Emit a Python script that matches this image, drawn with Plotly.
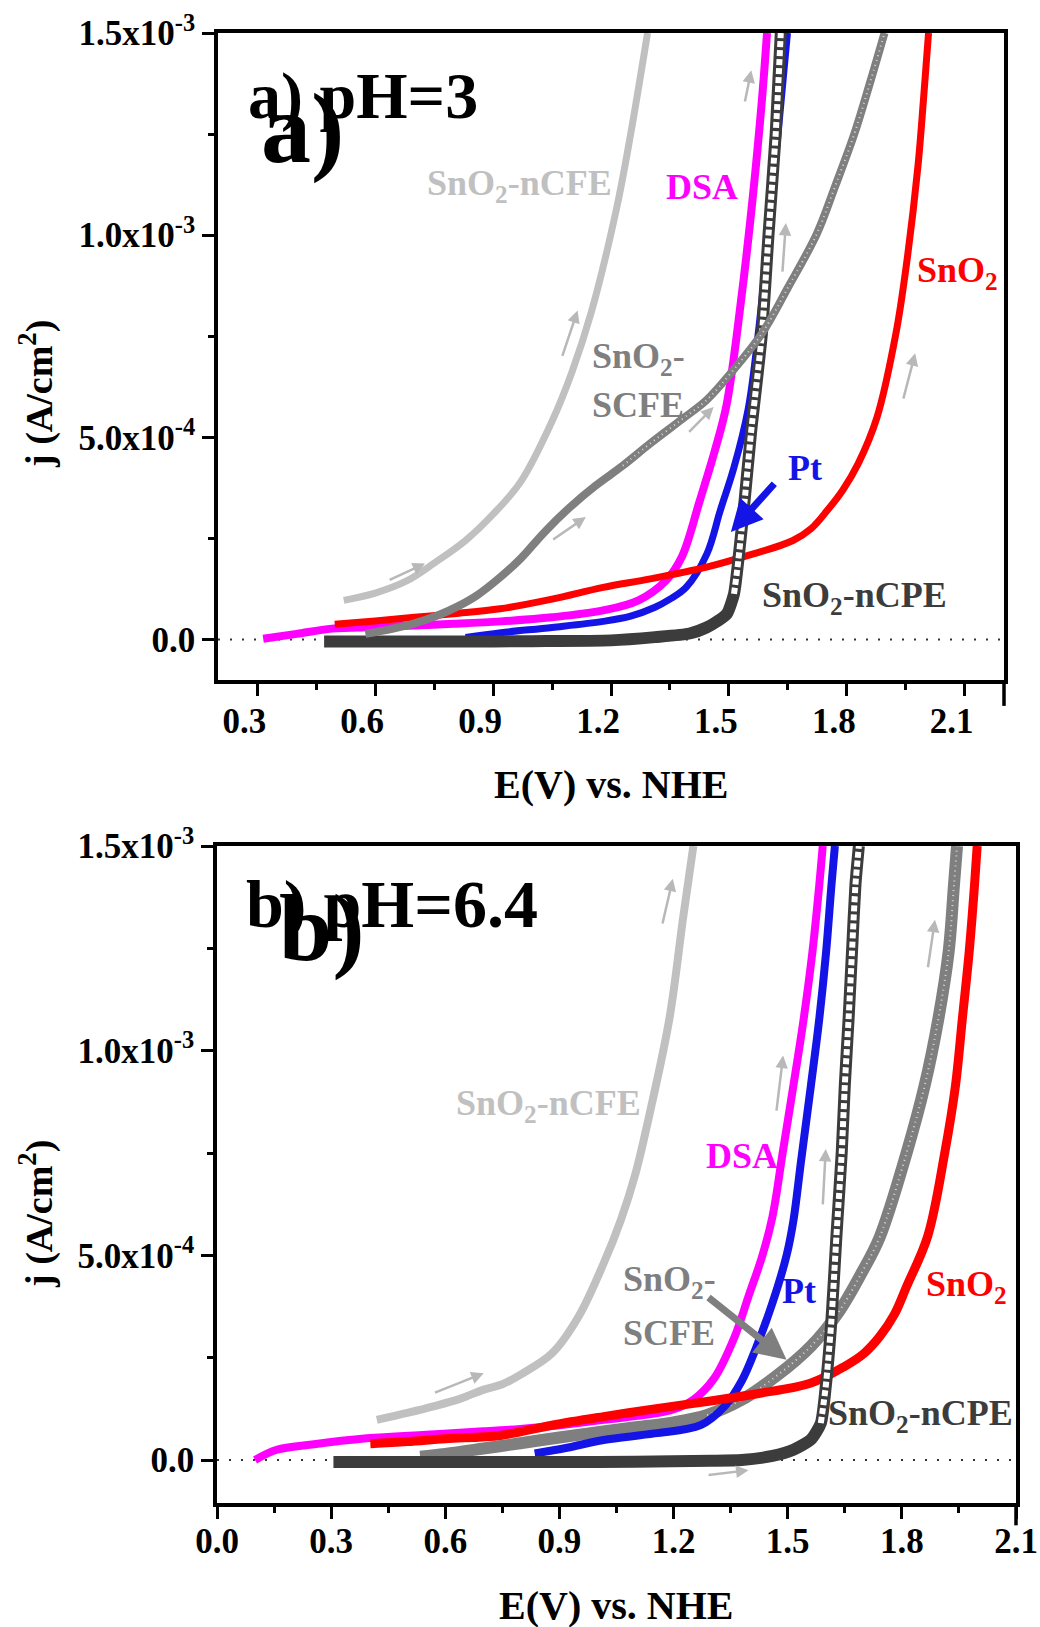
import plotly.graph_objects as go

FONT = "Liberation Serif"

# ---------------- pH = 3 sweeps : E (V vs NHE), j (10^-4 A/cm2) ----------------
a_ncfe_E = [0.52, 0.60, 0.68, 0.75, 0.83, 0.90, 0.97, 1.05, 1.10, 1.15, 1.215, 1.25, 1.293]
a_ncfe_j = [0.97, 1.15, 1.45, 1.89, 2.45, 3.1, 3.9, 5.4, 6.6, 8.1, 10.7, 12.5, 15.0]

a_scfe_E = [0.575, 0.64, 0.70, 0.76, 0.81, 0.86, 0.918, 0.97, 1.03, 1.093, 1.16, 1.23, 1.30,
            1.381, 1.443, 1.51, 1.584, 1.65, 1.724, 1.77, 1.819, 1.86, 1.896]
a_scfe_j = [0.14, 0.26, 0.40, 0.60, 0.82, 1.10, 1.54, 2.0, 2.65, 3.25, 3.8, 4.3, 4.85,
            5.45, 5.92, 6.65, 7.57, 8.7, 10.04, 11.2, 12.5, 13.8, 15.0]

a_dsa_E = [0.315, 0.40, 0.49, 0.60, 0.70, 0.80, 0.92, 1.05, 1.18, 1.27, 1.34, 1.38, 1.426,
           1.465, 1.494, 1.531, 1.56, 1.584, 1.597]
a_dsa_j = [0.02, 0.14, 0.27, 0.31, 0.35, 0.39, 0.45, 0.55, 0.72, 0.97, 1.46, 2.04, 3.44,
           4.7, 5.8, 8.39, 10.87, 13.34, 15.0]

a_pt_E = [0.83, 0.92, 1.05, 1.18, 1.25, 1.312, 1.35, 1.391, 1.444, 1.478, 1.513, 1.549,
          1.575, 1.60, 1.625, 1.649]
a_pt_j = [0.05, 0.17, 0.30, 0.45, 0.58, 0.80, 1.0, 1.29, 2.12, 3.19, 4.26, 5.7,
          7.6, 10.0, 12.5, 15.0]

a_sno2_E = [0.497, 0.60, 0.70, 0.80, 0.918, 1.05, 1.18, 1.30, 1.443, 1.549, 1.663, 1.71,
            1.75, 1.79, 1.829, 1.877, 1.925, 1.951, 1.981, 1.995, 2.008]
a_sno2_j = [0.38, 0.46, 0.55, 0.64, 0.76, 1.0, 1.29, 1.5, 1.79, 2.08, 2.45, 2.75,
            3.19, 3.7, 4.35, 5.5, 7.57, 9.22, 11.7, 13.34, 15.0]

a_ncpe_E = [0.47, 0.60, 0.80, 1.00, 1.20, 1.312, 1.40, 1.443, 1.47, 1.495, 1.513, 1.522,
            1.54, 1.556, 1.584, 1.601, 1.619, 1.632]
a_ncpe_j = [-0.05, -0.05, -0.05, -0.04, -0.02, 0.06, 0.15, 0.30, 0.45, 0.64, 1.13, 1.79,
            3.44, 5.09, 7.57, 10.04, 12.5, 15.0]

# scan-direction arrows (E_tail, j_tail, E_head, j_head)
a_scan = [(0.633, 1.46, 0.727, 1.88), (1.075, 6.98, 1.115, 8.14), (1.54, 13.27, 1.557, 14.08),
          (1.636, 9.06, 1.645, 10.3), (1.943, 5.92, 1.974, 7.08), (1.049, 2.45, 1.136, 3.03),
          (1.395, 5.1, 1.461, 5.75)]

# ---------------- pH = 6.4 sweeps ----------------
b_ncfe_E = [0.42, 0.50, 0.569, 0.64, 0.701, 0.75, 0.80, 0.881, 0.95, 1.016, 1.062, 1.10,
            1.134, 1.189, 1.225, 1.252]
b_ncfe_j = [0.98, 1.15, 1.31, 1.50, 1.72, 1.85, 2.1, 2.61, 3.5, 4.8, 5.88, 7.0,
            8.33, 10.78, 13.24, 15.0]

b_scfe_E = [0.534, 0.60, 0.70, 0.797, 0.90, 1.00, 1.10, 1.20, 1.288, 1.379, 1.47, 1.561,
            1.633, 1.696, 1.742, 1.813, 1.86, 1.896, 1.923, 1.937, 1.945]
b_scfe_j = [0.08, 0.15, 0.28, 0.41, 0.55, 0.68, 0.80, 0.92, 1.10, 1.47, 2.05, 2.78,
            3.6, 4.6, 5.45, 7.52, 9.15, 10.78, 12.42, 14.05, 15.0]

b_dsa_E = [0.10, 0.157, 0.25, 0.394, 0.55, 0.70, 0.797, 0.90, 1.016, 1.197, 1.253, 1.307,
           1.36, 1.397, 1.433, 1.46, 1.487, 1.515, 1.542, 1.565, 1.583, 1.592]
b_dsa_j = [0.0, 0.25, 0.38, 0.53, 0.62, 0.70, 0.76, 0.85, 0.98, 1.23, 1.48, 2.0,
           3.0, 4.0, 4.98, 5.95, 7.52, 9.15, 10.78, 12.42, 14.05, 15.0]

b_pt_E = [0.835, 0.92, 1.016, 1.15, 1.271, 1.334, 1.379, 1.416, 1.46, 1.497, 1.515, 1.535,
          1.561, 1.583, 1.601, 1.615, 1.624]
b_pt_j = [0.16, 0.30, 0.49, 0.65, 0.85, 1.31, 1.93, 2.72, 3.84, 5.0, 5.85, 7.3,
          9.15, 10.78, 12.42, 14.05, 15.0]

b_sno2_E = [0.403, 0.50, 0.60, 0.745, 0.88, 1.016, 1.15, 1.288, 1.42, 1.561, 1.65, 1.70,
            1.742, 1.78, 1.813, 1.868, 1.913, 1.941, 1.959, 1.977, 1.991, 1.998]
b_sno2_j = [0.40, 0.45, 0.52, 0.60, 0.85, 1.06, 1.25, 1.43, 1.62, 1.88, 2.29, 2.6,
            3.02, 3.55, 4.25, 5.47, 7.52, 9.15, 10.78, 12.42, 14.05, 15.0]

b_ncpe_E = [0.306, 0.50, 0.70, 0.90, 1.10, 1.30, 1.379, 1.46, 1.515, 1.561, 1.587, 1.60,
            1.615, 1.628, 1.642, 1.65, 1.66, 1.669, 1.678, 1.687]
b_ncpe_j = [-0.05, -0.05, -0.05, -0.05, -0.04, -0.02, 0.0, 0.1, 0.25, 0.5, 0.9, 1.8,
            3.43, 5.47, 7.52, 9.15, 10.78, 12.42, 14.05, 15.0]

b_scan = [(0.569, 1.63, 0.701, 2.12), (1.17, 13.07, 1.198, 14.2), (1.47, 8.5, 1.488, 9.88),
          (1.592, 6.21, 1.60, 7.6), (1.868, 12.0, 1.887, 13.2), (1.288, -0.37, 1.397, -0.25)]

# axis ticks
a_xticks = [0.3, 0.6, 0.9, 1.2, 1.5, 1.8, 2.1]
b_xticks = [0.0, 0.3, 0.6, 0.9, 1.2, 1.5, 1.8, 2.1]
j_ticks = [0, 5, 10, 15]
j_ticktext = ["0.0", "5.0x10<sup>-4</sup>", "1.0x10<sup>-3</sup>", "1.5x10<sup>-3</sup>"]

C_NCFE = "#c0c0c0"
C_SCFE = "#7f7f7f"
C_NCPE = "#3c3c3c"
C_DSA = "#ff00ff"
C_PT = "#1414e6"
C_SNO2 = "#ff0000"


def curve(E, j, color, width, xa, ya, dash=None, smoothing=1.0):
    return go.Scatter(x=E, y=j, mode="lines", xaxis=xa, yaxis=ya, hoverinfo="skip",
                      showlegend=False,
                      line=dict(color=color, width=width, dash=dash,
                                shape="spline", smoothing=smoothing))


def part_above(E, j, jmin):
    pts = [(e, v) for e, v in zip(E, j) if v >= jmin]
    return [p[0] for p in pts], [p[1] for p in pts]


fig = go.Figure()

# --- panel a (pH 3) ---
fig.add_trace(curve(a_ncfe_E, a_ncfe_j, C_NCFE, 7, "x", "y"))
fig.add_trace(curve(a_dsa_E, a_dsa_j, C_DSA, 8, "x", "y"))
fig.add_trace(curve(a_pt_E, a_pt_j, C_PT, 7, "x", "y"))
fig.add_trace(curve(a_sno2_E, a_sno2_j, C_SNO2, 7, "x", "y"))
fig.add_trace(curve(a_ncpe_E, a_ncpe_j, C_NCPE, 12, "x", "y", smoothing=0.6))
e, v = part_above(a_ncpe_E, a_ncpe_j, 0.9)
fig.add_trace(curve(e, v, "white", 6, "x", "y", dash="6px,3px", smoothing=0.6))
fig.add_trace(curve(a_scfe_E, a_scfe_j, C_SCFE, 8, "x", "y"))
e, v = part_above(a_scfe_E, a_scfe_j, 4.0)
fig.add_trace(curve(e, v, "#d6d6d6", 2, "x", "y", dash="1px,4px"))

# --- panel b (pH 6.4) ---
fig.add_trace(curve(b_ncfe_E, b_ncfe_j, C_NCFE, 8, "x2", "y2"))
fig.add_trace(curve(b_scfe_E, b_scfe_j, C_SCFE, 12, "x2", "y2"))
e, v = part_above(b_scfe_E, b_scfe_j, 1.0)
fig.add_trace(curve(e, v, "#d6d6d6", 2, "x2", "y2", dash="1px,4px"))
fig.add_trace(curve(b_dsa_E, b_dsa_j, C_DSA, 8, "x2", "y2"))
fig.add_trace(curve(b_pt_E, b_pt_j, C_PT, 8, "x2", "y2"))
fig.add_trace(curve(b_sno2_E, b_sno2_j, C_SNO2, 9, "x2", "y2"))
fig.add_trace(curve(b_ncpe_E, b_ncpe_j, C_NCPE, 12, "x2", "y2", smoothing=0.6))
e, v = part_above(b_ncpe_E, b_ncpe_j, 0.6)
fig.add_trace(curve(e, v, "white", 6, "x2", "y2", dash="6px,3px", smoothing=0.6))

W, H = 1040, 1627


def axis_base():
    return dict(showline=True, linewidth=3.5, linecolor="black", mirror=True,
                ticks="outside", ticklen=12, tickwidth=3, tickcolor="black",
                showgrid=False, zeroline=False, automargin=False,
                tickfont=dict(family=FONT, size=35, color="black", weight="bold"))


xa = axis_base()
xa.update(domain=[218 / W, 1004 / W], range=[0.2, 2.2], anchor="y",
          tickmode="array", tickvals=a_xticks, ticktext=[f"{t:.1f}" for t in a_xticks],
          ticklabelshift=-13, ticklabelstandoff=-5,
          minor=dict(ticks="outside", ticklen=6, tickwidth=3, tickcolor="black",
                     tick0=0.15, dtick=0.3, showgrid=False))
ya = axis_base()
ya.update(domain=[1 - 680 / H, 1 - 33 / H], range=[-1.0, 15.0], anchor="x",
          tickmode="array", tickvals=j_ticks, ticktext=j_ticktext,
          minor=dict(ticks="outside", ticklen=6, tickwidth=3, tickcolor="black",
                     tick0=2.5, dtick=5, showgrid=False))
xb = axis_base()
xb.update(domain=[217 / W, 1016 / W], range=[0.0, 2.1], anchor="y2",
          tickmode="array", tickvals=b_xticks, ticktext=[f"{t:.1f}" for t in b_xticks],
          ticklabelstandoff=-8,
          minor=dict(ticks="outside", ticklen=6, tickwidth=3, tickcolor="black",
                     tick0=0.15, dtick=0.3, showgrid=False))
yb = axis_base()
yb.update(domain=[1 - 1503 / H, 1 - 846 / H], range=[-1.05, 15.0], anchor="x2",
          tickmode="array", tickvals=j_ticks, ticktext=j_ticktext,
          minor=dict(ticks="outside", ticklen=6, tickwidth=3, tickcolor="black",
                     tick0=2.5, dtick=5, showgrid=False))

ann = []


def text(t, x, y, color, xref, yref, size=36, xanchor="left", angle=0):
    ann.append(dict(text=t, x=x, y=y, xref=xref, yref=yref, xanchor=xanchor,
                    yanchor="middle", showarrow=False, textangle=angle,
                    font=dict(family=FONT, size=size, color=color, weight="bold")))


# panel a labels
text("a) pH=3", 0.27, 13.44, "black", "x", "y", size=66)
text("a)", 0.305, 12.65, "black", "x", "y", size=100)
text("SnO<sub>2</sub>-nCFE", 0.727, 11.24, C_NCFE, "x", "y")
text("DSA", 1.334, 11.18, C_DSA, "x", "y")
text("SnO<sub>2</sub>", 1.973, 9.07, C_SNO2, "x", "y")
text("SnO<sub>2</sub>-", 1.147, 6.95, C_SCFE, "x", "y")
text("SCFE", 1.147, 5.79, C_SCFE, "x", "y")
text("Pt", 1.645, 4.24, C_PT, "x", "y")
text("SnO<sub>2</sub>-nCPE", 1.579, 1.05, C_NCPE, "x", "y")

# panel b labels
text("b) pH=6.4", 0.072, 13.58, "black", "x2", "y2", size=68)
text("b)", 0.158, 13.0, "black", "x2", "y2", size=96)
text("SnO<sub>2</sub>-nCFE", 0.624, 8.66, C_NCFE, "x2", "y2")
text("DSA", 1.279, 7.43, C_DSA, "x2", "y2")
text("SnO<sub>2</sub>-", 1.062, 4.35, C_SCFE, "x2", "y2")
text("SCFE", 1.062, 3.11, C_SCFE, "x2", "y2")
text("Pt", 1.48, 4.13, C_PT, "x2", "y2")
text("SnO<sub>2</sub>", 1.858, 4.23, C_SNO2, "x2", "y2")
text("SnO<sub>2</sub>-nCPE", 1.60, 1.08, C_NCPE, "x2", "y2")

# axis titles
text("E(V) vs. NHE", 611 / W, 1 - 784 / H, "black", "paper", "paper", size=40, xanchor="center")
text("E(V) vs. NHE", 616 / W, 1 - 1605 / H, "black", "paper", "paper", size=40, xanchor="center")
text("j (A/cm<sup>2</sup>)", 36 / W, 1 - 394 / H, "black", "paper", "paper", size=38,
     xanchor="center", angle=-90)
text("j (A/cm<sup>2</sup>)", 36 / W, 1 - 1214 / H, "black", "paper", "paper", size=38,
     xanchor="center", angle=-90)


def pointer(x0, y0, x1, y1, xref, yref, color, width, size):
    ann.append(dict(x=x1, y=y1, ax=x0, ay=y0, xref=xref, yref=yref, axref=xref, ayref=yref,
                    text="", showarrow=True, arrowhead=2, arrowsize=size,
                    arrowwidth=width, arrowcolor=color))


for s in a_scan:
    pointer(*s, "x", "y", "#b8b8b8", 2.5, 1.0)
for s in b_scan:
    pointer(*s, "x2", "y2", "#b8b8b8", 2.5, 1.0)

# label pointers
pointer(1.619, 3.89, 1.505, 2.66, "x", "y", C_PT, 7, 0.9)
pointer(1.288, 4.0, 1.497, 2.45, "x2", "y2", C_SCFE, 7, 0.9)

shapes = [
    dict(type="line", xref="x domain", yref="y", x0=0, x1=1, y0=0, y1=0,
         line=dict(color="#333333", width=2, dash="2px,10px"), layer="below"),
    dict(type="line", xref="x2 domain", yref="y2", x0=0, x1=1, y0=0, y1=0,
         line=dict(color="#333333", width=2, dash="2px,10px"), layer="below"),
    dict(type="line", xref="x domain", yref="y domain", x0=1, x1=1, y0=0, y1=-0.04,
         line=dict(color="black", width=3.5)),
    dict(type="line", xref="x2 domain", yref="y2 domain", x0=1, x1=1, y0=0, y1=-0.034,
         line=dict(color="black", width=3.5)),
]

fig.update_layout(template="none", width=W, height=H, autosize=False,
                  margin=dict(l=0, r=0, t=0, b=0, pad=0),
                  paper_bgcolor="white", plot_bgcolor="white", showlegend=False,
                  xaxis=xa, yaxis=ya, xaxis2=xb, yaxis2=yb,
                  annotations=ann, shapes=shapes)

fig.write_html("out.html")
